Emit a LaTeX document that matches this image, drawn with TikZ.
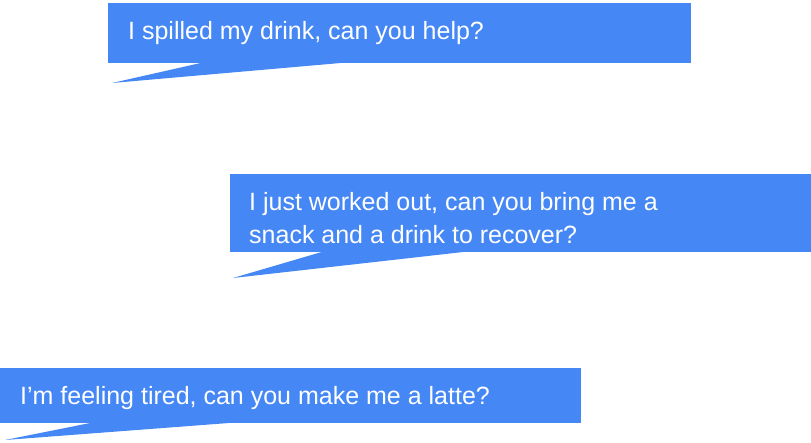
\documentclass[tikz,border=0pt]{standalone}
\usepackage{fontspec}
\setmainfont{Liberation Sans}
\definecolor{bubblue}{HTML}{4487F5}
\begin{document}
\begin{tikzpicture}[x=1pt,y=-1pt]
\tikzset{
  bubble/.style={fill=bubblue},
  txt/.style={text=white, inner sep=0pt, anchor=base west, align=left,
    font=\fontsize{25}{33}\selectfont}
}
\useasboundingbox (0,0) rectangle (811,442);
% bubble 1
\fill[bubble] (108,3) rectangle (691,63);
\fill[bubble] (205,62) -- (112,83) -- (352,62) -- cycle;
\node[txt] (t1) at (128,39) {I spilled my drink, can you help?};
% bubble 2
\fill[bubble] (230,174) rectangle (811,252);
\fill[bubble] (325,251) -- (233,278) -- (472,251) -- cycle;
\node[txt] (t2) at (249,243) {I just worked out, can you bring me a\\snack and a drink to recover?};
% bubble 3
\fill[bubble] (0,368) rectangle (581,423);
\fill[bubble] (95,422) -- (5,440) -- (242,422) -- cycle;
\node[txt] (t3) at (20,404) {I’m feeling tired, can you make me a latte?};
\end{tikzpicture}
\end{document}
